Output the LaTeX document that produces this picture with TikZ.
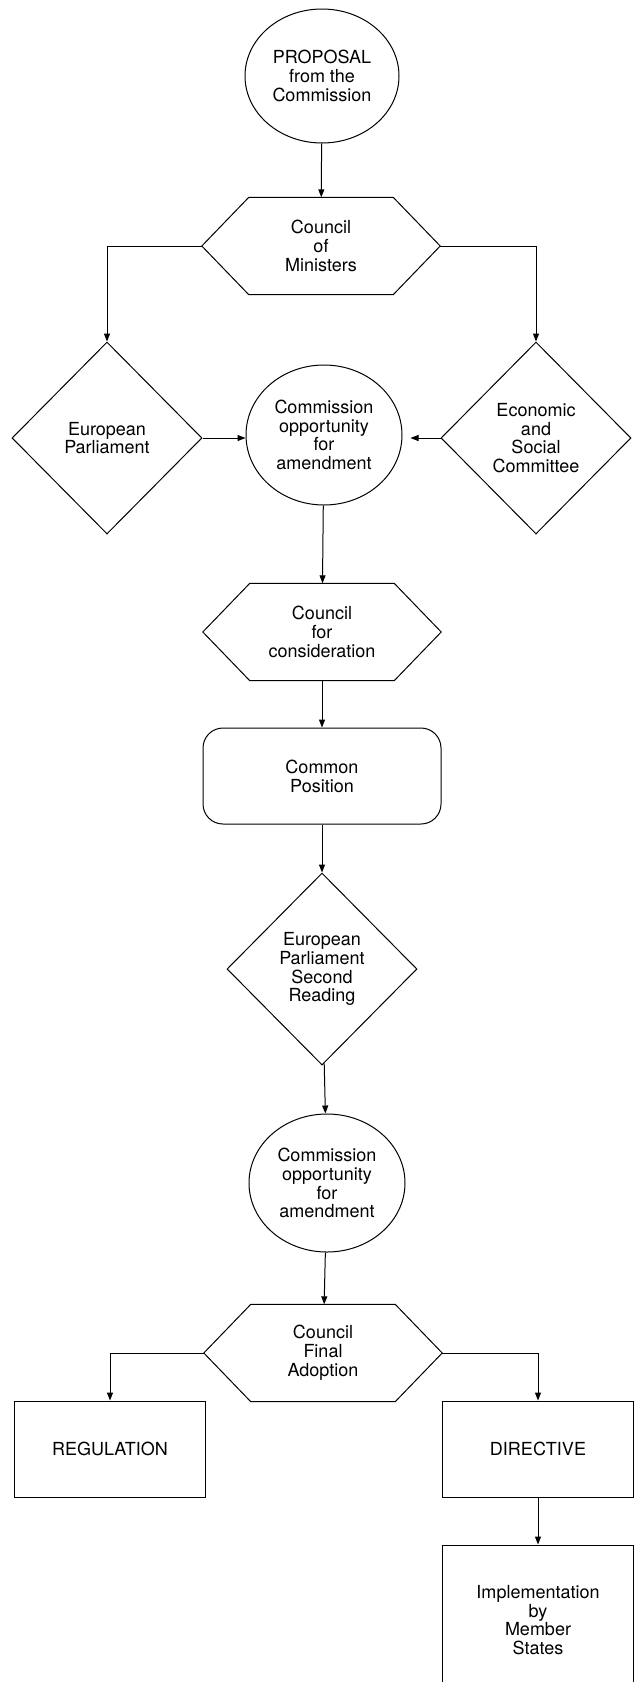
\documentclass[tikz,border=0pt]{standalone}
\usepackage{fontspec}
\setmainfont{TeX Gyre Heros}
\usetikzlibrary{shapes.geometric,arrows.meta,calc}
\begin{document}
\begin{tikzpicture}[x=1pt,y=-1pt,
  lbl/.style={align=center,font=\fontsize{18}{18.8}\selectfont,inner sep=0pt},
  ln/.style={line width=1pt,black},
  arr/.style={ln,-{Triangle[length=8pt,width=6pt]}},
  ellnode/.style={lbl,ellipse,draw,ln},
  hexnode/.style={lbl,minimum width=238pt,minimum height=97pt},
  dianode/.style={lbl,diamond,draw,ln,aspect=1,minimum width=190pt,minimum height=192pt},
  boxnode/.style={lbl,rectangle,draw,ln,minimum width=191pt,minimum height=96pt}
]
\useasboundingbox (0,0) rectangle (638,1682);

\node[ellnode,minimum width=154pt,minimum height=134pt] (p) at (322,76) {PROPOSAL\\from the\\Commission};
\node[hexnode] (h1) at (321,246) {Council\\of\\Ministers};
\node[dianode] (ep) at (107,438) {European\\Parliament};
\node[dianode] (esc) at (536,438) {Economic\\and\\Social\\Committee};
\node[ellnode,minimum width=156pt,minimum height=140pt] (c2) at (324,435) {Commission\\opportunity\\for\\amendment};
\node[hexnode] (h2) at (322,632) {Council\\for\\consideration};
\node[lbl,rectangle,rounded corners=20pt,draw,ln,minimum width=238pt,minimum height=96pt] (cp) at (322,776) {Common\\Position};
\node[dianode] (ep2) at (322,969) {European\\Parliament\\Second\\Reading};
\node[ellnode,minimum width=156pt,minimum height=138pt] (c3) at (327,1183) {Commission\\opportunity\\for\\amendment};
\node[hexnode] (h3) at (323,1353) {Council\\Final\\Adoption};
\node[boxnode] (reg) at (110,1449) {REGULATION};
\node[boxnode] (dir) at (538,1449) {DIRECTIVE};
\node[lbl,rectangle,draw,ln,minimum width=191pt,minimum height=150pt] (imp) at (538,1620) {Implementation\\by\\Member\\States};

\foreach \n in {h1,h2,h3}
  \draw[ln] (\n.west) -- ([xshift=47pt]\n.north west) -- ([xshift=-47pt]\n.north east)
     -- (\n.east) -- ([xshift=-47pt]\n.south east) -- ([xshift=47pt]\n.south west) -- cycle;

\draw[arr] (p) -- (h1);
\draw[arr] (h1.west) -| (ep.north);
\draw[arr] (h1.east) -| (esc.north);
\draw[arr] (ep.east) -- (ep.east -| c2.west);
\draw[arr] (esc.west) -- ([xshift=8pt]esc.west -| c2.east);
\draw[arr] (c2) -- (h2);
\draw[arr] (h2) -- (cp);
\draw[arr] (cp) -- (ep2);
\draw[arr] (ep2) -- (c3);
\draw[arr] (c3) -- (h3);
\draw[arr] (h3.west) -| (reg.north);
\draw[arr] (h3.east) -| (dir.north);
\draw[arr] (dir) -- (imp);
\end{tikzpicture}
\end{document}
